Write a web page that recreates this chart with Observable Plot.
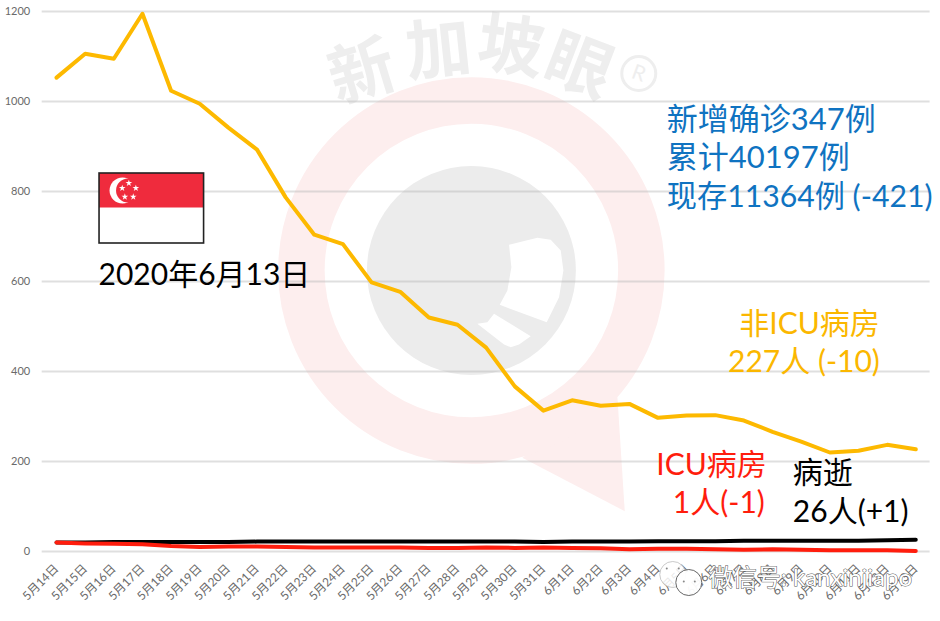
<!DOCTYPE html>
<html lang="zh">
<head>
<meta charset="utf-8">
<script src="https://cdn.jsdelivr.net/npm/d3@7"></script>
<script src="https://cdn.jsdelivr.net/npm/@observablehq/plot@0.6"></script>
<style>html,body{margin:0;padding:0;background:#fff}svg{display:block}</style>
</head>
<body>
<div id="chart"></div>
<script>
// Chart data
const dateLabels = ["5月14日","5月15日","5月16日","5月17日","5月18日","5月19日","5月20日","5月21日","5月22日","5月23日","5月24日","5月25日","5月26日","5月27日","5月28日","5月29日","5月30日","5月31日","6月1日","6月2日","6月3日","6月4日","6月5日","6月6日","6月7日","6月8日","6月9日","6月10日","6月11日","6月12日","6月13日"];
const nonIcu = [1053,1106,1095,1195,1024,995,942,893,787,704,683,598,577,520,504,453,367,313,336,324,328,297,302,303,291,266,244,220,224,237,227];
const deaths = [20,20,21,21,21,21,21,22,22,22,22,22,22,22,22,22,22,21,22,22,22,23,23,23,24,24,24,24,24,25,26];
const icu = [20,18,17,16,12,10,11,11,10,9,9,9,9,8,8,9,8,9,8,7,5,6,6,5,4,5,4,3,3,3,1];
const yTicks = [0,200,400,600,800,1000,1200];

// Annotation text
const flagDate = "2020年6月13日";
const summaryLines = ["新增确诊347例","累计40197例","现存11364例 (-421)"];
const nonIcuLines = ["非ICU病房","227人 (-10)"];
const icuLines = ["ICU病房","1人(-1)"];
const deathLines = ["病逝","26人(+1)"];
const brandChars = ["新","加","坡","眼"];
const wechatLabel = "微信号: kanxinjiapo";

// Convert picture positions of the decorations into data units
const ax = px => (px - 56) / 28.63;
const ay = py => (551 - py) / 0.45;
const FONT = 'Lato, "Noto Sans CJK SC", sans-serif';
const series = (values) => values.map((v, i) => ({i, v}));
const pts = (list) => list.map(([px, py]) => ({x: ax(px), y: ay(py)}));
const zoomPts = (list) => pts(list.map(([a, b]) => [280 + a / 3, 200 + b / 3]));
const label = (text, px, py, fill, fontSize, anchor = "start") =>
  Plot.text([text], {x: () => ax(px), y: () => ay(py), text: d => d, fill, fontSize, fontFamily: FONT, textAnchor: anchor, lineAnchor: "middle"});

const brand = [
  {c: brandChars[0], px: 362, py: 73, r: -17},
  {c: brandChars[1], px: 438, py: 51, r: -6},
  {c: brandChars[2], px: 510, py: 48, r: 8},
  {c: brandChars[3], px: 578, py: 67, r: 21}
];
const stars = [[128.3,182.7],[121.7,187.7],[135.3,187.7],[124.3,196.3],[132.7,196.3]];
const wechatEyes = [[666,568],[678,568],[683,581],[694,581]];

const chart = Plot.plot({
  width: 940, height: 621,
  marginLeft: 41.7, marginRight: 10.4, marginTop: 11, marginBottom: 70,
  style: {fontFamily: FONT, background: "#fff"},
  x: {type: "linear", domain: [-0.5, 30.5]},
  y: {domain: [0, 1200]},
  marks: [
    // watermark
    Plot.line(zoomPts([[725,772],[1032,932],[1010,590],[900,650]]), {x: "x", y: "y", fill: "#fdeeee", stroke: "none"}),
    Plot.dot([0], {x: () => ax(470.7), y: () => ay(270), r: 170, stroke: "#fdeeee", strokeWidth: 46.5, fill: "none"}),
    Plot.dot([0], {x: () => ax(470.7), y: () => ay(270), r: 104.5, fill: "#ececec", stroke: "none"}),
    Plot.line(zoomPts([[685,133],[770,112],[810,118],[840,150],[848,210],[835,290],[798,365],[657,313],[680,270],[692,200]]), {x: "x", y: "y", fill: "#fff", stroke: "none"}),
    Plot.line(zoomPts([[590,370],[620,365],[640,340],[750,407],[715,432],[690,440],[670,432]]), {x: "x", y: "y", fill: "#fff", stroke: "none"}),
    Plot.text(brand, {x: d => ax(d.px), y: d => ay(d.py), text: "c", rotate: "r", fontSize: 66, fontWeight: 700, fill: "#eeeeee", fontFamily: FONT}),
    Plot.dot([0], {x: () => ax(638), y: () => ay(73), r: 17, stroke: "#eeeeee", strokeWidth: 3, fill: "none"}),
    Plot.text(["R"], {x: () => ax(638), y: () => ay(73), text: d => d, rotate: 20, fontSize: 21, fill: "#eeeeee", fontFamily: FONT}),

    // grid and axes
    Plot.ruleY(yTicks, {stroke: "#b8b8b8", strokeOpacity: 0.45, strokeWidth: 2}),
    Plot.axisY({ticks: yTicks, tickSize: 0, tickPadding: 12, label: null, fontSize: 11, color: "#6a6a6a", tickFormat: d => String(d)}),
    Plot.axisX({ticks: d3.range(dateLabels.length), tickFormat: i => dateLabels[i], tickRotate: -45, tickSize: 0, tickPadding: 15, label: null, fontSize: 12, color: "#6a6a6a"}),

    // series
    Plot.line(series(nonIcu), {x: "i", y: "v", stroke: "#fdb900", strokeWidth: 4}),
    Plot.line(series(deaths), {x: "i", y: "v", stroke: "#000", strokeWidth: 4}),
    Plot.line(series(icu), {x: "i", y: "v", stroke: "#ff1d0d", strokeWidth: 4}),

    // flag
    Plot.rect([0], {x1: () => ax(99), x2: () => ax(203.5), y1: () => ay(207.5), y2: () => ay(173), fill: "#ef2b3d"}),
    Plot.rect([0], {x1: () => ax(99), x2: () => ax(203.5), y1: () => ay(243), y2: () => ay(173), fill: "none", stroke: "#222", strokeWidth: 1.6}),
    Plot.dot([0], {x: () => ax(122), y: () => ay(190), r: 13, fill: "#fff", stroke: "none"}),
    Plot.dot([0], {x: () => ax(127.5), y: () => ay(190), r: 12, fill: "#ef2b3d", stroke: "none"}),
    Plot.dot(pts(stars), {x: "x", y: "y", symbol: "star", r: 2.1, fill: "#fff", stroke: "none"}),

    // annotations
    label(flagDate, 98, 275, "#000", 30),
    label(summaryLines[0], 666, 120, "#0f73c1", 31),
    label(summaryLines[1], 666, 158, "#0f73c1", 31),
    label(summaryLines[2], 666, 197, "#0f73c1", 30.2),
    label(nonIcuLines[0], 879, 324, "#fbb700", 30, "end"),
    label(nonIcuLines[1], 879, 362, "#fbb700", 30, "end"),
    label(icuLines[0], 766, 465, "#ff1d0d", 30, "end"),
    label(icuLines[1], 764, 503, "#ff1d0d", 30, "end"),
    label(deathLines[0], 792, 473, "#000", 30),
    label(deathLines[1], 792, 512, "#000", 30),

    // WeChat watermark
    Plot.dot([0], {x: () => ax(672), y: () => ay(574), r: 13, fill: "#fff", fillOpacity: 0.85, stroke: "#bbb", strokeWidth: 0.8}),
    Plot.dot([0], {x: () => ax(688), y: () => ay(582), r: 13, fill: "#fff", fillOpacity: 0.95, stroke: "#666", strokeWidth: 1}),
    Plot.dot(pts(wechatEyes), {x: "x", y: "y", r: 1, fill: "#888", stroke: "none"}),
    Plot.text([wechatLabel], {x: () => ax(708), y: () => ay(578), text: d => d, textAnchor: "start", fontSize: 24, fill: "#fff", stroke: "#555", strokeWidth: 1, fontFamily: FONT})
  ]
});
document.getElementById("chart").append(chart);
</script>
</body>
</html>
